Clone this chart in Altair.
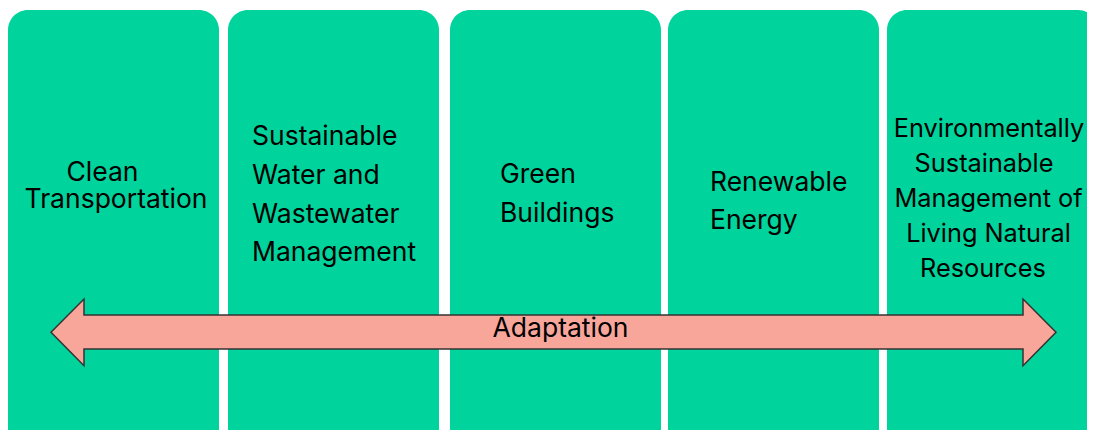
import altair as alt
import pandas as pd

# ---- content ----
categories = [
    "Clean Transportation",
    "Sustainable Water and Wastewater Management",
    "Green Buildings",
    "Renewable Energy",
    "Environmentally Sustainable Management of Living Natural Resources",
]
label_lines = [
    ["Clean", "Transportation"],
    ["Sustainable", "Water and", "Wastewater", "Management"],
    ["Green", "Buildings"],
    ["Renewable", "Energy"],
    ["Environmentally", "Sustainable", "Management of", "Living Natural", "Resources"],
]
arrow_label = "Adaptation"

# ---- layout (diagram coordinates, px in plot area) ----
W, H = 1079, 422
box_left = [0, 220, 442, 660, 879]
box_width = 211
box_top, box_bottom = 2, 440
label_align = ["center", "left", "left", "left", "center"]
label_size = [26.5, 26.5, 26.5, 26.5, 25.3]
label_x = [[94.5, 108], [244] * 4, [492] * 2, [702] * 2, [981, 976, 980.5, 980.5, 975]]
label_y = [[173, 200], [137, 176, 215, 253], [175, 214], [183, 221], [129, 164, 199, 234, 269]]

# double-headed arrow outline (clockwise from left tip)
arrow_vx = [43, 76, 76, 1015, 1015, 1048, 1015, 1015, 76, 76]
arrow_vy = [324.3, 291, 307, 307, 291, 324.3, 357.7, 341, 341, 357.7]
arrow_label_x, arrow_label_y = 552.5, 329

GREEN = "#00D39B"
SALMON = "#F9A69A"
FONT = "Inter"

boxes = pd.DataFrame({
    "category": categories,
    "x": box_left,
    "x2": [b + box_width for b in box_left],
    "y": [box_top] * 5,
    "y2": [box_bottom] * 5,
})

rows = []
for i, lines in enumerate(label_lines):
    for j, t in enumerate(lines):
        rows.append({"category": categories[i], "text": t, "align": label_align[i],
                     "size": label_size[i], "x": label_x[i][j], "y": label_y[i][j]})
labels = pd.DataFrame(rows)

# arrow as a custom symbol path centred on its midpoint
cx = (min(arrow_vx) + max(arrow_vx)) / 2
cy = (min(arrow_vy) + max(arrow_vy)) / 2
half = (max(arrow_vx) - min(arrow_vx)) / 2
path = "M" + " L".join(
    f"{(vx - cx) / half:.5f},{(vy - cy) / half:.5f}" for vx, vy in zip(arrow_vx, arrow_vy)
) + " Z"
arrow = pd.DataFrame({"x": [cx], "y": [cy]})
arrow_txt = pd.DataFrame({"text": [arrow_label], "x": [arrow_label_x], "y": [arrow_label_y]})

xs = alt.Scale(domain=[0, W], range=[0, W], zero=False, nice=False)
ys = alt.Scale(domain=[0, H], range=[0, H], zero=False, nice=False)

box_layer = alt.Chart(boxes).mark_rect(cornerRadius=20, color=GREEN, clip=True).encode(
    x=alt.X("x:Q", scale=xs, axis=None),
    x2="x2:Q",
    y=alt.Y("y:Q", scale=ys, axis=None),
    y2="y2:Q",
)

def text_layer(df, align, size):
    return alt.Chart(df).mark_text(
        align=align, baseline="alphabetic", font=FONT, fontSize=size, color="#000000"
    ).encode(
        x=alt.X("x:Q", scale=xs, axis=None),
        y=alt.Y("y:Q", scale=ys, axis=None),
        text="text:N",
    )

lbl_layers = []
for i in range(len(categories)):
    sub = labels[labels["category"] == categories[i]]
    lbl_layers.append(text_layer(sub, label_align[i], label_size[i]))

arrow_layer = alt.Chart(arrow).mark_point(
    shape=path, size=(2 * half) ** 2, filled=True, fill=SALMON, opacity=1,
    fillOpacity=1, stroke="#333333", strokeWidth=1.5, strokeOpacity=1,
).encode(
    x=alt.X("x:Q", scale=xs, axis=None),
    y=alt.Y("y:Q", scale=ys, axis=None),
)

arrow_text = text_layer(arrow_txt, "center", 26.5)

chart = alt.layer(box_layer, *lbl_layers, arrow_layer, arrow_text).properties(
    width=W, height=H, padding=0, autosize=alt.AutoSizeParams(type="none"),
).configure_view(stroke=None)

chart.save("out.html", embed_options={"renderer": "svg", "actions": False})
